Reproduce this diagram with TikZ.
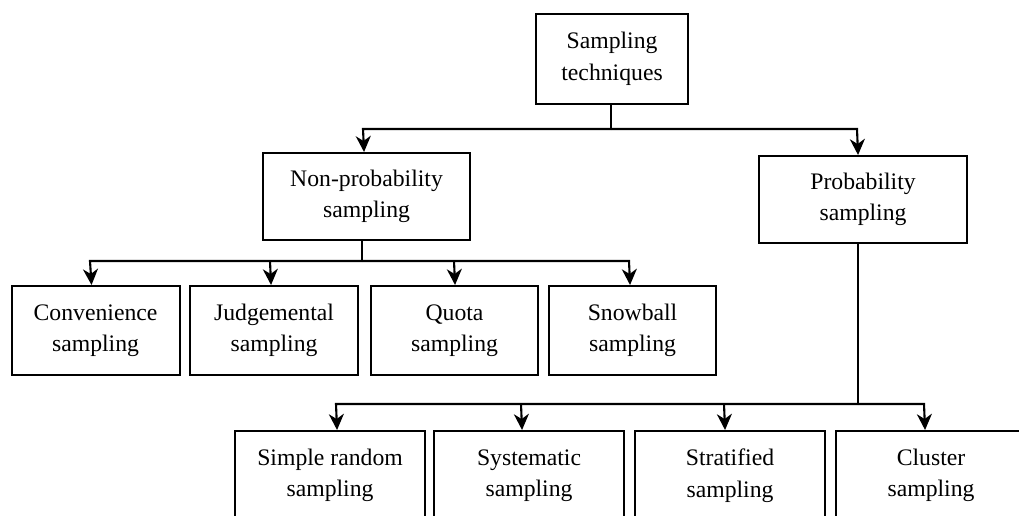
\documentclass[tikz,border=0pt]{standalone}
\usepackage{fontspec}
\setmainfont{Liberation Serif}
\usetikzlibrary{arrows.meta}
\begin{document}
\begin{tikzpicture}[x=1pt,y=-1pt,
  box/.style={draw, line width=2.1pt, align=center, anchor=north west,
    inner sep=0pt, font=\fontsize{23.7}{31.5}\selectfont},
  link/.style={line width=2.1pt},
  arr/.style={line width=2.1pt, -{Stealth[length=16pt,width=15pt,inset=5pt]}}]
\useasboundingbox (0,0) rectangle (1019,516);
\clip (0,0) rectangle (1019,516);

% root
\node[box, minimum width=152pt, minimum height=90pt] (root) at (535,13) {Sampling\\techniques};

% second level
\node[box, minimum width=207pt, minimum height=87pt] (nonp) at (262,152) {Non-probability\\sampling};
\node[box, minimum width=208pt, minimum height=87pt] (prob) at (758,155) {Probability\\sampling};

% non-probability methods
\node[box, minimum width=168pt, minimum height=89pt] (conv) at (10.5,285) {Convenience\\sampling};
\node[box, minimum width=168pt, minimum height=89pt] (judg) at (189,285) {Judgemental\\sampling};
\node[box, minimum width=167pt, minimum height=89pt] (quota) at (370,285) {Quota\\sampling};
\node[box, minimum width=167pt, minimum height=89pt] (snow) at (548,285) {Snowball\\sampling};

% probability methods
\node[box, minimum width=190pt, minimum height=89pt] (simple) at (234,430) {Simple random\\sampling};
\node[box, minimum width=190pt, minimum height=89pt] (syst) at (433,430) {Systematic\\sampling};
\node[box, minimum width=190pt, minimum height=89pt] (strat) at (634,430) {Stratified\\sampling};
\node[box, minimum width=190pt, minimum height=89pt] (clus) at (835,430) {Cluster\\sampling};

% bus junctions
\coordinate (j0) at (611,129);
\coordinate (j1) at (362,261);
\coordinate (j2) at (858,404);

% root -> second level
\draw[link] (root.south -| j0) -- (j0);
\draw[arr] (j0) -- (857,129) -- ([xshift=-5pt]prob.north);
\draw[arr] (j0) -- (363,129) -- ([xshift=-2.5pt]nonp.north);

% non-probability -> its methods
\draw[link] (nonp.south -| j1) -- (j1);
\draw[arr] (j1) -- (90,261) -- ([xshift=-4pt]conv.north);
\draw[arr] (270,261) -- ([xshift=-3pt]judg.north);
\draw[arr] (j1) -- (629,261) -- ([xshift=-2.5pt]snow.north);
\draw[arr] (454,261) -- ([xshift=0.5pt]quota.north);

% probability -> its methods
\draw[link] (prob.south -| j2) -- (j2);
\draw[arr] (j2) -- (336,404) -- ([xshift=7pt]simple.north);
\draw[arr] (521,404) -- ([xshift=-7pt]syst.north);
\draw[arr] (724,404) -- ([xshift=-5pt]strat.north);
\draw[arr] (j2) -- (924,404) -- ([xshift=-6pt]clus.north);
\end{tikzpicture}
\end{document}
